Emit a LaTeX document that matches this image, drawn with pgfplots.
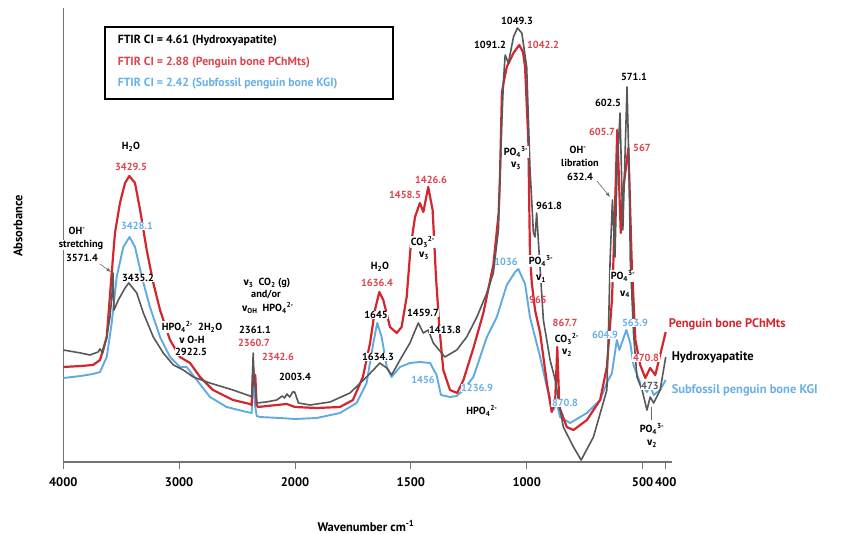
\documentclass[border=0pt]{standalone}
\usepackage{fontspec}
\setmainfont{PT Sans}
\newfontfamily\grk{Fira Sans}
\usepackage{pgfplots}
\usepackage{pgfplotstable}
\pgfplotsset{compat=1.18}
\definecolor{cred}{RGB}{212,38,46}
\definecolor{cblue}{RGB}{96,170,226}
\definecolor{cgray}{RGB}{88,88,88}
\definecolor{tred}{RGB}{222,68,78}
\definecolor{tblue}{RGB}{104,176,230}
\newcommand{\nuu}{{\grk ν}}

\pgfplotstableread{
w a
4000 112
3850 109
3770 107
3700 110
3683 113
3660 109
3625 125
3597 145
3580 167
3571 189
3562 152
3525 162
3467 174
3435 179
3366 169
3309 149
3223 125
3137 109
3050 97
2964 92
2878 85
2734 79
2535 72
2388 66
2372 65
2361 109
2352 80
2342 75
2331 59
2250 60
2158 62
2110 66
2090 64
2070 68
2045 65
2020 70
2003 70
1985 59
1935 57
1849 60
1763 69
1691 85
1650 95
1634 99
1604 94
1583 87
1547 102
1504 119
1468 139
1446 129
1425 132
1403 119
1353 105
1302 112
1259 125
1215 145
1172 169
1144 189
1122 232
1115 287
1107 342
1100 382
1093 407
1079 399
1057 425
1040 434
1021 429
1000 395
986 295
971 229
964 225
957 249
948 215
928 142
899 102
877 82
863 62
842 35
798 15
765 2
712 25
654 72
647 132
640 202
630 262
619 205
610 292
597 349
585 232
567 375
557 282
553 202
539 129
524 85
502 72
481 52
467 65
452 59
424 72
400 105
}\hap

\pgfplotstableread{
w a
4000 95
3850 96
3744 97
3683 102
3625 125
3582 189
3554 229
3511 259
3467 279
3430 286
3381 279
3337 252
3280 212
3223 179
3165 152
3079 122
2993 105
2906 99
2820 85
2708 72
2535 62
2388 58
2374 57
2361 95
2352 77
2343 87
2331 57
2319 55
2158 57
2072 58
2000 55
1906 54
1806 55
1750 62
1707 85
1676 119
1655 152
1636 170
1619 162
1590 135
1561 129
1540 135
1518 165
1501 215
1482 245
1461 259
1446 250
1425 275
1406 252
1392 187
1377 135
1360 92
1331 72
1300 69
1273 82
1230 114
1187 149
1144 197
1121 249
1115 289
1107 369
1100 379
1086 395
1057 409
1032 417
1016 410
1007 395
993 322
986 209
978 179
964 152
942 129
913 79
892 50
877 62
868 115
859 55
827 35
798 32
740 42
683 62
654 95
632 162
626 199
609 332
594 229
584 272
561 314
547 202
539 162
531 122
510 97
488 84
467 94
445 87
424 107
400 130
}\pchm

\pgfplotstableread{
w a
4000 84
3850 86
3744 88
3683 90
3625 105
3582 139
3539 185
3482 215
3428 225
3381 215
3322 185
3252 155
3165 125
3079 105
2993 95
2935 95
2848 82
2734 65
2590 55
2417 50
2374 49
2360 92
2345 57
2331 46
2302 45
2130 44
2000 43
1906 44
1806 49
1734 59
1691 79
1662 119
1645 139
1626 125
1604 95
1583 85
1547 95
1504 99
1461 100
1417 99
1389 87
1370 67
1331 65
1302 66
1273 72
1230 85
1172 125
1129 145
1086 177
1050 190
1036 193
1007 178
986 145
942 105
913 75
885 52
870 59
856 45
813 39
740 49
683 62
654 79
632 89
611 122
600 112
570 132
553 119
539 97
510 79
481 70
467 77
452 67
424 72
400 82
}\kgi

\begin{document}
\begin{tikzpicture}
\useasboundingbox (0,0) rectangle (843pt,-534pt);
\begin{axis}[
  at={(63.3pt,-462pt)}, anchor=south west,
  scale only axis, width=608.2pt, height=454pt,
  xmin=0, xmax=5.25, ymin=0, ymax=454,
  axis x line=bottom, axis y line=left,
  axis line style={-, draw=black!55, line width=1.3pt},
  ytick=\empty,
  xtick={0,1,2,3,4,5,5.2},
  xticklabels={4000,3000,2000,1500,1000,500,400},
  tick align=outside, major tick length=7pt,
  x tick style={draw=black!55, line width=1pt},
  xticklabel style={font=\bfseries\fontsize{12.5}{14}\selectfont, yshift=-5pt},
  /pgf/number format/assume math mode=true,
]
\addplot[cblue, line width=1.9pt, line join=round] table[x expr={(4000-\thisrow{w}+max(0,2000-\thisrow{w}))/1000}, y=a] {\kgi};
\addplot[cred, line width=2.2pt, line join=round] table[x expr={(4000-\thisrow{w}+max(0,2000-\thisrow{w}))/1000}, y=a] {\pchm};
\addplot[cgray, line width=1.6pt, line join=round] table[x expr={(4000-\thisrow{w}+max(0,2000-\thisrow{w}))/1000}, y=a] {\hap};
\end{axis}

\begin{scope}[x=1pt, y=-1pt, every node/.style={font=\bfseries\fontsize{10.3}{11}\selectfont, fill=white, inner sep=0.6pt}]
% left region
\node at (131,147) {H\textsubscript{2}O};
\node[text=tred] at (131,167) {3429.5};
\node[text=tblue] at (137,226) {3428.1};
\node at (77,231) {OH\textsuperscript{-}};
\node at (81,245) {stretching};
\node at (82,258) {3571.4};
\draw[black!60, line width=0.6pt, -latex, fill=none] (100,264) -- (111,272);
\node at (138,278) {3435.2};
\node at (192,327) {HPO\textsubscript{4}\textsuperscript{2-}\ \ 2H\textsubscript{2}O};
\node at (192,340) {\nuu{} O-H};
\node at (191,352) {2922.5};
\node at (267,283) {\nuu\textsubscript{3}\ \ CO\textsubscript{2} (g)};
\node at (266,295) {and/or};
\node at (268,308) {\nuu\textsubscript{OH}\ \ HPO\textsubscript{4}\textsuperscript{2-}};
\node at (255,330) {2361.1};
\node[text=tred] at (254,343) {2360.7};
\node[text=tred] at (278,357) {2342.6};
\node at (295,377) {2003.4};
% middle
\node at (380,267) {H\textsubscript{2}O};
\node[text=tred] at (377,283) {1636.4};
\node at (376,315) {1645};
\node at (378,357) {1634.3};
\node[text=tblue] at (423,380) {1456};
\node at (423,313) {1459.7};
\node at (445,330) {1413.8};
\node at (423,242) {CO\textsubscript{3}\textsuperscript{2-}};
\node at (424,256) {\nuu\textsubscript{3}};
\node[text=tred] at (405,195) {1458.5};
\node[text=tred] at (431,180) {1426.6};
\node[text=tblue] at (477,388) {1236.9};
\node at (482,411) {HPO\textsubscript{4}\textsuperscript{2-}};
\node[text=tblue, fill=none] at (506,262) {1036};
\node at (541,261) {PO\textsubscript{4}\textsuperscript{3-}};
\node at (541,279) {\nuu\textsubscript{1}};
\node at (549,206) {961.8};
\node[text=tred, fill=none] at (538,300) {965};
\node[text=tred] at (565,323) {867.7};
\node at (567,339) {CO\textsubscript{3}\textsuperscript{2-}};
\node at (567,353) {\nuu\textsubscript{2}};
\node[text=tblue] at (565,403) {870.8};
\node at (516,152) {PO\textsubscript{4}\textsuperscript{3-}};
\node at (516,166) {\nuu\textsubscript{3}};
\node at (517,21) {1049.3};
\node at (490,45) {1091.2};
\node[text=tred] at (543,45) {1042.2};
% right
\node at (634,77) {571.1};
\node at (608,103) {602.5};
\node[text=tred] at (602,132) {605.7};
\node[text=tred] at (642,148) {567};
\node at (578,150) {OH\textsuperscript{-}};
\node at (580,163) {libration};
\node at (580,177) {632.4};
\draw[black!60, line width=0.6pt, -latex, fill=none] (597,181) -- (610,197);
\node at (623,276) {PO\textsubscript{4}\textsuperscript{3-}};
\node at (625,294) {\nuu\textsubscript{4}};
\node[text=tblue] at (605,335) {604.9};
\node[text=tblue] at (635,323) {563.9};
\node[text=tred] at (646,358) {470.8};
\node[text=cgray] at (650,386) {473};
\draw[black!60, line width=0.6pt] (651,407) -- (651,420);
\node at (652,429) {PO\textsubscript{4}\textsuperscript{3-}};
\node at (652,444) {\nuu\textsubscript{2}};
% series names
\node[anchor=west, text=cred, fill=none, font=\bfseries\fontsize{12.5}{14}\selectfont] at (668,324) {Penguin bone PChMts};
\node[anchor=west, text=black, fill=none, font=\bfseries\fontsize{12.5}{14}\selectfont] at (671,357) {Hydroxyapatite};
\node[anchor=west, text=tblue, fill=none, font=\bfseries\fontsize{12.5}{14}\selectfont] at (671,390) {Subfossil penguin bone KGI};
% legend box
\draw[black, line width=1.3pt, fill=white] (105,27) rectangle (393,99);
\node[anchor=west, fill=none, font=\bfseries\fontsize{11.8}{14}\selectfont] at (117,41) {FTIR CI = 4.61 (Hydroxyapatite)};
\node[anchor=west, fill=none, text=tred, font=\bfseries\fontsize{11.8}{14}\selectfont] at (117,62.5) {FTIR CI = 2.88 (Penguin bone PChMts)};
\node[anchor=west, fill=none, text=tblue, font=\bfseries\fontsize{11.8}{14}\selectfont] at (117,84) {FTIR CI = 2.42 (Subfossil penguin bone KGI)};
% axis titles
\node[fill=none, font=\bfseries\fontsize{12.5}{14}\selectfont] at (366,526) {Wavenumber cm\textsuperscript{-1}};
\node[fill=none, rotate=90, font=\bfseries\fontsize{12.5}{14}\selectfont] at (18,226) {Absorbance};
\end{scope}
\end{tikzpicture}
\end{document}
